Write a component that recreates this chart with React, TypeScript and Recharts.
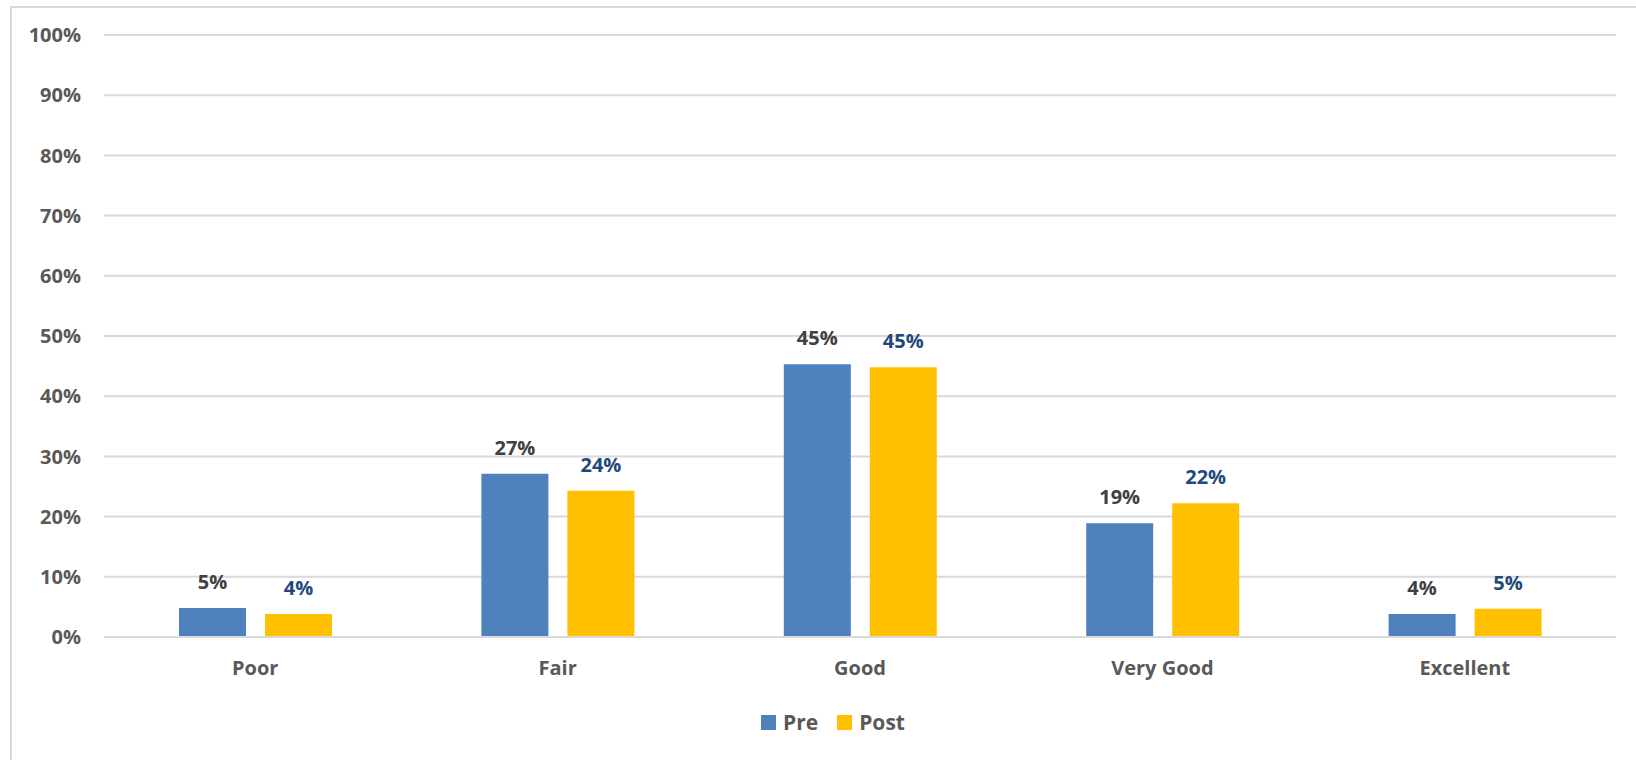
import React from "react";
import { BarChart, Bar, XAxis, YAxis, CartesianGrid, Legend, LabelList } from "recharts";

const categories = ["Poor", "Fair", "Good", "Very Good", "Excellent"];
const seriesNames = ["Pre", "Post"];
const preValues = [4.8, 27.1, 45.3, 18.9, 3.8];
const postValues = [3.8, 24.3, 44.8, 22.2, 4.7];
const yTicks = [0, 10, 20, 30, 40, 50, 60, 70, 80, 90, 100];

const data = categories.map((c, i) => ({ name: c, Pre: preValues[i], Post: postValues[i] }));

const FONT = "'Open Sans', 'Liberation Sans', sans-serif";
const AXIS = "#595959";

function LegendBox({ payload }: any) {
  const items = [...(payload || [])].sort(
    (a: any, b: any) => seriesNames.indexOf(a.value) - seriesNames.indexOf(b.value)
  );
  return (
    <div style={{ height: 63, paddingTop: 12, paddingLeft: 50, boxSizing: "border-box", display: "flex", justifyContent: "center", gap: 19, fontFamily: FONT }}>
      {items.map((p: any) => (
        <div key={p.value} style={{ display: "flex", alignItems: "center", height: 26 }}>
          <span style={{ width: 15, height: 15, background: p.color, display: "inline-block", marginRight: 7 }} />
          <span style={{ color: AXIS, fontSize: 21, fontWeight: 700 }}>{p.value}</span>
        </div>
      ))}
    </div>
  );
}

export default function App() {
  return (
    <div style={{ position: "absolute", top: 0, left: 0, width: 1636, height: 760, overflow: "hidden", background: "#fff" }}>
      <div style={{ position: "absolute", left: 10, top: 6, width: 1700, height: 800, border: "2px solid #d9d9d9" }} />
      <div style={{ position: "absolute", left: 0, top: 0 }}>
        <BarChart width={1636} height={760} data={data} margin={{ top: 35, right: 20, left: 0, bottom: 0 }} barSize={67} barGap={19}>
          <CartesianGrid vertical={false} stroke="#d9d9d9" strokeWidth={2} />
          <XAxis
            dataKey="name"
            height={60}
            axisLine={{ stroke: "#d9d9d9", strokeWidth: 2 }}
            tickLine={false}
            tickSize={0}
            tickMargin={24}
            tick={{ fill: AXIS, fontSize: 20, fontWeight: 700, fontFamily: FONT }}
          />
          <YAxis
            width={104}
            domain={[0, 100]}
            ticks={yTicks}
            interval={0}
            axisLine={false}
            tickLine={false}
            tickSize={0}
            tickMargin={23}
            tickFormatter={(v) => `${v}%`}
            tick={{ fill: AXIS, fontSize: 20, fontWeight: 700, fontFamily: FONT }}
          />
          <Legend content={<LegendBox />} verticalAlign="bottom" />
          <Bar dataKey="Pre" fill="#4F81BD" isAnimationActive={false}>
            <LabelList
              dataKey="Pre"
              position="top"
              offset={19}
              formatter={(v: any) => `${Math.round(v)}%`}
              style={{ fill: "#404040", fontSize: 20, fontWeight: 700, fontFamily: FONT }}
            />
          </Bar>
          <Bar dataKey="Post" fill="#FFC000" isAnimationActive={false}>
            <LabelList
              dataKey="Post"
              position="top"
              offset={19}
              formatter={(v: any) => `${Math.round(v)}%`}
              style={{ fill: "#1F497D", fontSize: 20, fontWeight: 700, fontFamily: FONT }}
            />
          </Bar>
        </BarChart>
      </div>
    </div>
  );
}
